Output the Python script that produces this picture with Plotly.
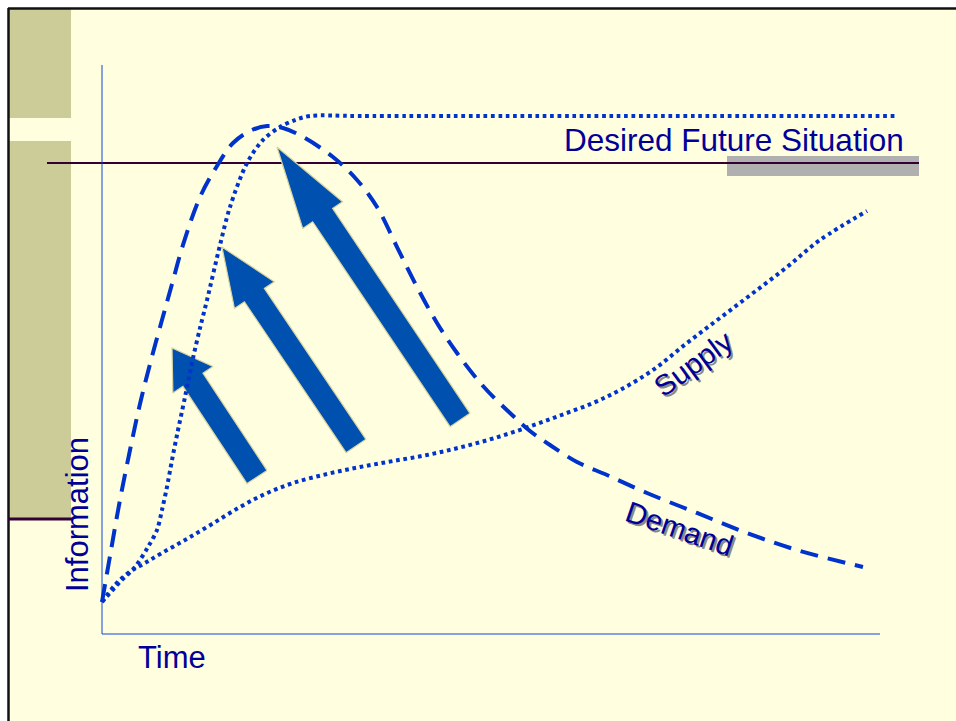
import plotly.graph_objects as go
import math

W, H = 956, 721
# axis frame (pixel geometry of the drawn axes)
X0_PX, X1_PX = 102, 880
Y0_PX, Y1_PX = 634, 65
SX = (X1_PX - X0_PX) / 100.0
SY = (Y0_PX - Y1_PX) / 100.0

def to_px(t, v):
    return X0_PX + t * SX, Y0_PX - v * SY

def to_data(px, py):
    return (px - X0_PX) / SX, (Y0_PX - py) / SY

# ---------------- data (time 0..100, information 0..100) ----------------
demand_t = [0, 1.03, 2.31, 3.60, 4.88, 6.17, 7.71, 9.00, 10.41, 12.60, 14.78, 16.84,
            19.02, 21.21, 23.26, 25.84, 29.69, 32.78, 35.35, 37.92, 40.49, 43.06,
            45.63, 48.97, 52.44, 55.01, 57.58, 61.05, 64.91, 70.05, 76.48, 82.90, 89.33, 97.81]
demand_v = [5.62, 13.71, 23.55, 32.34, 40.42, 47.45, 55.18, 61.51, 68.37, 76.80, 82.25, 86.29,
            88.40, 89.28, 88.93, 87.35, 83.83, 79.79, 75.04, 68.01, 60.98, 54.66,
            49.38, 43.59, 38.84, 35.68, 33.22, 30.23, 27.94, 24.78, 21.27, 17.75, 14.76, 11.78]

desired_t = [0, 2.31, 4.24, 5.91, 7.07, 7.71, 8.35, 9.00, 9.64, 10.67, 11.70, 12.60, 13.50,
             15.17, 16.45, 18.64, 20.69, 22.88, 24.81, 26.74, 33.16, 102.31]
desired_v = [5.62, 9.14, 11.78, 15.29, 18.28, 21.79, 25.83, 30.58, 34.97, 41.65, 48.51, 53.78, 58.70,
             68.37, 75.04, 82.78, 86.82, 89.10, 90.33, 91.04, 91.04, 91.04]

supply_t = [0, 1.67, 3.34, 5.53, 7.71, 10.67, 14.14, 17.74, 20.95, 24.55, 28.92, 33.16,
            37.40, 41.77, 46.02, 50.26, 54.63, 58.87, 63.11, 66.58, 70.82, 75.19, 79.43,
            83.68, 88.05, 92.29, 98.33]
supply_v = [5.62, 8.61, 10.72, 12.48, 14.24, 16.52, 19.33, 22.32, 24.60, 26.54, 28.12, 29.35,
            30.40, 31.46, 32.78, 34.36, 36.29, 38.40, 40.60, 42.88, 46.40, 51.14, 55.54,
            59.93, 64.50, 69.24, 74.34]

desired_level = 82.78

arrow_tail_t = [19.92, 32.65, 46.02]
arrow_tail_v = [27.59, 33.04, 37.61]
arrow_tip_t = [9.00, 15.42, 22.49]
arrow_tip_v = [50.26, 68.01, 85.59]

labels = ["Desired Future Situation", "Supply", "Demand", "Time", "Information"]

# ---------------- style ----------------
CURVE = "#0033CC"
TEXT = "#000099"
ARROW = "#0050AF"
BG = "#FFFFE0"
TAN = "#CCCC99"
DARK = "#330033"
FONT = "Liberation Sans, Arial, sans-serif"
head_len_px = [38, 58, 82]
head_w_px = 48
shaft_w_px = 24

fig = go.Figure()

# arrows (polygons built in pixel space from the data points)
for i in range(3):
    tx, ty = to_px(arrow_tail_t[i], arrow_tail_v[i])
    px_, py_ = to_px(arrow_tip_t[i], arrow_tip_v[i])
    dx, dy = px_ - tx, py_ - ty
    L = math.hypot(dx, dy)
    ux, uy = dx / L, dy / L
    nx, ny = -uy, ux
    bx, by = px_ - ux * head_len_px[i], py_ - uy * head_len_px[i]
    s, h = shaft_w_px / 2, head_w_px / 2
    pts = [(tx + nx * s, ty + ny * s), (bx + nx * s, by + ny * s), (bx + nx * h, by + ny * h),
           (px_, py_), (bx - nx * h, by - ny * h), (bx - nx * s, by - ny * s),
           (tx - nx * s, ty - ny * s), (tx + nx * s, ty + ny * s)]
    d = [to_data(a, b) for a, b in pts]
    fig.add_trace(go.Scatter(x=[p[0] for p in d], y=[p[1] for p in d], mode="lines",
                             fill="toself", fillcolor=ARROW,
                             line=dict(color="#D8D4A0", width=1.2),
                             hoverinfo="skip", showlegend=False))

fig.add_trace(go.Scatter(x=demand_t, y=demand_v, mode="lines",
                         line=dict(color=CURVE, width=4, dash="18px,10px", shape="spline", smoothing=1.0),
                         showlegend=False, hoverinfo="skip"))
fig.add_trace(go.Scatter(x=desired_t, y=desired_v, mode="lines",
                         line=dict(color=CURVE, width=4, dash="3.7px,3.7px", shape="spline", smoothing=0.9),
                         showlegend=False, hoverinfo="skip"))
fig.add_trace(go.Scatter(x=supply_t, y=supply_v, mode="lines",
                         line=dict(color=CURVE, width=4, dash="3.7px,3.7px", shape="spline", smoothing=1.0),
                         showlegend=False, hoverinfo="skip"))

def px2paper(x, y):
    return x / W, 1 - y / H

shapes = []
def prect(x0, y0, x1, y1, color):
    a = px2paper(x0, y0); b = px2paper(x1, y1)
    shapes.append(dict(type="rect", xref="paper", yref="paper", x0=a[0], y0=b[1], x1=b[0], y1=a[1],
                       fillcolor=color, line=dict(width=0), layer="below"))
def pline(x0, y0, x1, y1, color, w):
    a = px2paper(x0, y0); b = px2paper(x1, y1)
    shapes.append(dict(type="line", xref="paper", yref="paper", x0=a[0], y0=a[1], x1=b[0], y1=b[1],
                       line=dict(color=color, width=w), layer="below"))

prect(8, 8, W, H, BG)
prect(9, 9, 71, 118, TAN)
prect(9, 141, 71, 519, TAN)
prect(727, 156, 919, 176, "#B0B0B0")
pline(8, 8.5, W, 8.5, "#111111", 2.5)
pline(8.5, 8, 8.5, H, "#111111", 2.5)
pline(8, 519, 72, 519, DARK, 3)
# desired level line
lx0, _ = to_data(47, 0)
lx1, _ = to_data(919, 0)
shapes.append(dict(type="line", xref="x", yref="y", x0=lx0, x1=lx1, y0=desired_level, y1=desired_level,
                   line=dict(color=DARK, width=2), layer="below"))
# axes
shapes.append(dict(type="line", xref="x", yref="y", x0=0, x1=0, y0=0, y1=100,
                   line=dict(color="#1144DD", width=1), layer="below"))
shapes.append(dict(type="line", xref="x", yref="y", x0=0, x1=100, y0=0, y1=0,
                   line=dict(color="#1144DD", width=1), layer="below"))

annotations = []
def ann(text, cx, cy, size, angle=0, color=TEXT, shadow=False):
    if shadow:
        sx, sy = px2paper(cx + 2, cy + 2)
        annotations.append(dict(text=text, x=sx, y=sy, xref="paper", yref="paper", showarrow=False,
                                textangle=angle, font=dict(family=FONT, size=size, color="#8A8A8A"),
                                xanchor="center", yanchor="middle"))
    x, y = px2paper(cx, cy)
    annotations.append(dict(text=text, x=x, y=y, xref="paper", yref="paper", showarrow=False,
                            textangle=angle, font=dict(family=FONT, size=size, color=color),
                            xanchor="center", yanchor="middle"))

ann(labels[0], 734, 140, 31.5)
ann(labels[1], 693, 364, 29, angle=-36, shadow=True)
ann(labels[2], 680, 528, 29.5, angle=19, shadow=True)
ann(labels[3], 172, 657, 31)
ann(labels[4], 77, 515, 31, angle=-90)

xr0, yr1 = to_data(0, 0)
xr1, yr0 = to_data(W, H)
fig.update_layout(width=W, height=H, margin=dict(l=0, r=0, t=0, b=0),
                  paper_bgcolor="white", plot_bgcolor="rgba(0,0,0,0)",
                  xaxis=dict(range=[xr0, xr1], visible=False, fixedrange=True),
                  yaxis=dict(range=[yr0, yr1], visible=False, fixedrange=True),
                  shapes=shapes, annotations=annotations, showlegend=False)

fig.write_html("out.html", post_script="document.body.style.margin='0';document.body.style.overflow='hidden';",
               config={"displayModeBar": False})
